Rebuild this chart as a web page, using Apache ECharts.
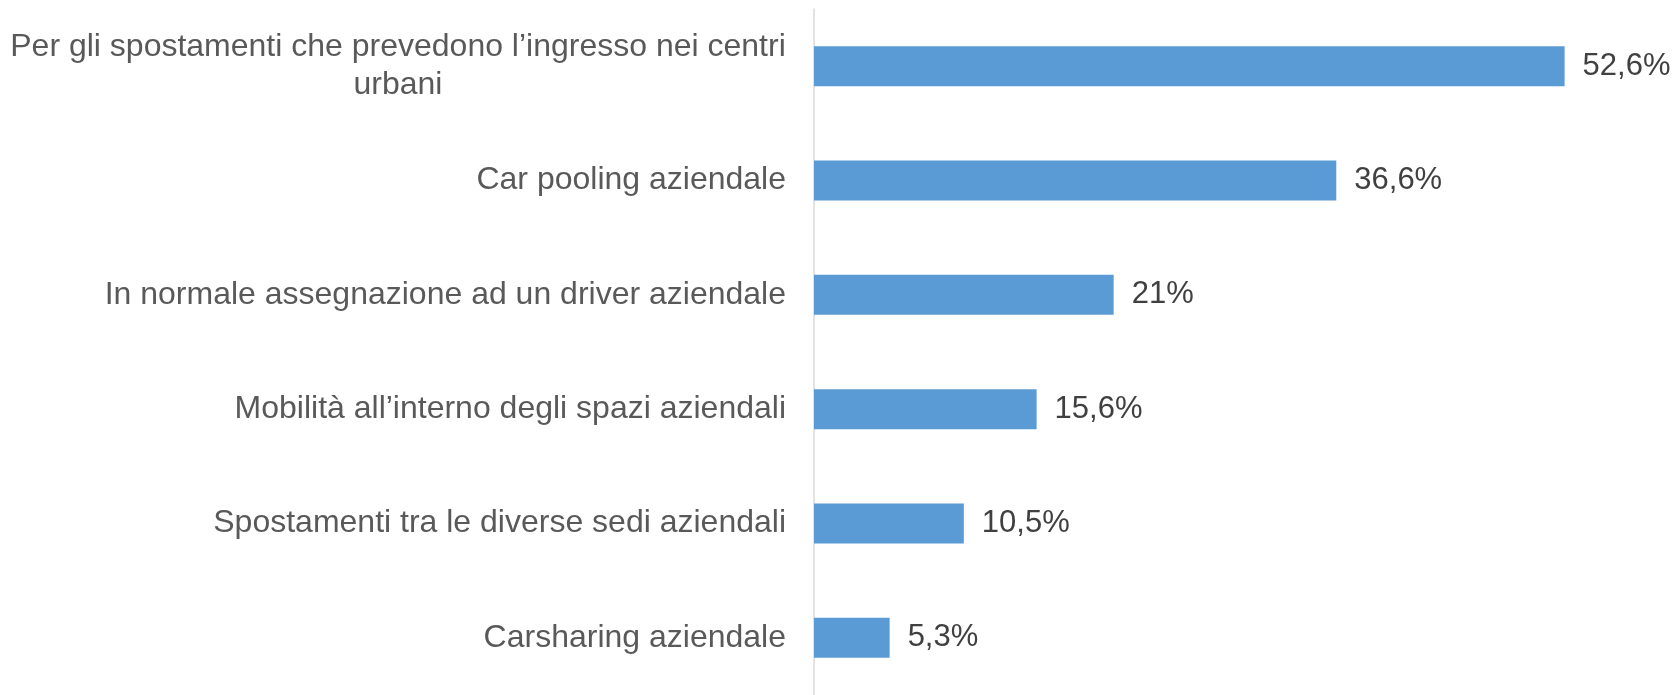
<!DOCTYPE html>
<html>
<head>
<meta charset="utf-8">
<script src="https://cdn.jsdelivr.net/npm/echarts@6/dist/echarts.min.js"></script>
<style>
  html, body { margin: 0; padding: 0; background: #fff; }
  #chart { width: 1674px; height: 695px; }
</style>
</head>
<body>
<div id="chart"></div>
<script>
// categorie dall'alto verso il basso
var categories = [
    'Per gli spostamenti che prevedono l\u2019ingresso nei centri urbani',
    'Car pooling aziendale',
    'In normale assegnazione ad un driver aziendale',
    'Mobilità all\u2019interno degli spazi aziendali',
    'Spostamenti tra le diverse sedi aziendali',
    'Carsharing aziendale'
];
var values = [52.6, 36.6, 21, 15.6, 10.5, 5.3];

var myChart = echarts.init(document.getElementById('chart'));

var option = {
    backgroundColor: '#ffffff',
    textStyle: {fontFamily: 'Liberation Sans, Arial, sans-serif'},
    grid: {left: 814, right: 78, top: 9, height: 689},
    xAxis: {
        type: 'value',
        min: 0,
        max: 54.8,
        show: false
    },
    yAxis: {
        type: 'category',
        inverse: true,
        data: categories,
        axisLine: {show: true, lineStyle: {color: '#d9d9d9', width: 1.5}},
        axisTick: {show: false},
        axisLabel: {
            margin: 28,
            fontSize: 32,
            color: '#595959',
            lineHeight: 38,
            formatter: function (v, i) {
                // la prima etichetta va su due righe, centrate
                if (v.indexOf('centri urbani') > -1) {
                    var parts = v.split(' urbani');
                    return '{c|' + parts[0] + '}\n{c|urbani}';
                }
                return v;
            },
            rich: {
                c: {width: 776, align: 'center', fontSize: 32, color: '#595959', lineHeight: 38}
            }
        }
    },
    series: [
        {
            type: 'bar',
            data: values,
            barWidth: '35%',
            itemStyle: {color: '#5b9bd5'},
            label: {
                show: true,
                position: 'right',
                distance: 18,
                fontSize: 31,
                color: '#404040',
                formatter: function (p) {
                    return String(p.value).replace('.', ',') + '%';
                }
            }
        }
    ]
};

myChart.setOption(option);
</script>
</body>
</html>
